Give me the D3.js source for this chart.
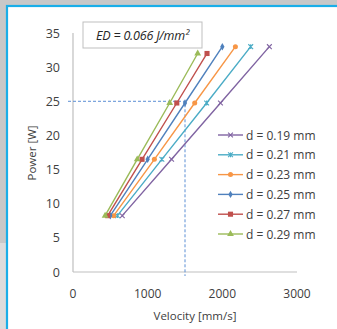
<!DOCTYPE html>
<meta charset="utf-8">
<script src="https://d3js.org/d3.v7.min.js"></script>
<style>
  body { margin: 0; background: #c8c8c8; }
  text { font-family: "Open Sans", "Liberation Sans", sans-serif; fill: #404040; }
</style>
<div id="chart"></div>
<script>
// chart data
var labels = ["d = 0.19 mm", "d = 0.21 mm", "d = 0.23 mm", "d = 0.25 mm", "d = 0.27 mm", "d = 0.29 mm"]
var colors = ["#8064A2", "#4BACC6", "#F79646", "#4F81BD", "#C0504D", "#9BBB59"]
var markers = ["x", "star", "circle", "diamond", "square", "triangle"]
var vel019 = [660, 1320, 1975, 2630], pow019 = [8.25, 16.5, 24.75, 33]
var vel021 = [595, 1190, 1790, 2380], pow021 = [8.25, 16.5, 24.75, 33]
var vel023 = [545, 1090, 1630, 2175], pow023 = [8.25, 16.5, 24.75, 33]
var vel025 = [500, 1000, 1500, 2000], pow025 = [8.25, 16.5, 24.75, 33]
var vel027 = [465, 925, 1390, 1795], pow027 = [8.25, 16.5, 24.75, 32]
var vel029 = [430, 860, 1295, 1670], pow029 = [8.25, 16.5, 24.75, 32]
var xTicks = [0, 1000, 2000, 3000]
var yTicks = [0, 5, 10, 15, 20, 25, 30, 35]
var guideVel = 1500, guidePow = 25

var vels = [vel019, vel021, vel023, vel025, vel027, vel029]
var pows = [pow019, pow021, pow023, pow025, pow027, pow029]
var series = labels.map(function(l, i) {
  return { label: l, color: colors[i], marker: markers[i],
    pts: vels[i].map(function(v, j) { return [v, pows[i][j]] }) }
})

var width = 337, height = 329
var svg = d3.select("#chart").append("svg").attr("width", width).attr("height", height)

// background panel
svg.append("rect").attr("x", 0).attr("y", 243).attr("width", 7).attr("height", 86).attr("fill", "#dcdcdc")
svg.append("rect").attr("x", 7).attr("y", 6).attr("width", 340).attr("height", 340)
  .attr("fill", "#fff").attr("stroke", "#1aaee8").attr("stroke-width", 2.2)

var x = d3.scaleLinear().domain([0, 3000]).range([73, 297])
var y = d3.scaleLinear().domain([0, 35]).range([272, 33])

// axes lines
svg.append("line").attr("x1", x(0)).attr("x2", x(0)).attr("y1", y(35)).attr("y2", y(0))
  .attr("stroke", "#bfbfbf").attr("stroke-width", 1.2)
svg.append("line").attr("x1", x(0)).attr("x2", x(3000)).attr("y1", y(0)).attr("y2", y(0))
  .attr("stroke", "#bfbfbf").attr("stroke-width", 1.2)

svg.selectAll(".ytick").data(yTicks).enter().append("text")
  .attr("x", 60).attr("y", function(d) { return y(d) + 4.5 })
  .attr("text-anchor", "end").style("font-size", "12.5px").text(function(d) { return d })
svg.selectAll(".xtick").data(xTicks).enter().append("text")
  .attr("x", function(d) { return x(d) }).attr("y", 298)
  .attr("text-anchor", "middle").style("font-size", "12px").text(function(d) { return d })

svg.append("text").attr("transform", "translate(36,153) rotate(-90)")
  .attr("text-anchor", "middle").style("font-size", "11.5px").text("Power [W]")
svg.append("text").attr("x", 195).attr("y", 320)
  .attr("text-anchor", "middle").style("font-size", "11.5px").text("Velocity [mm/s]")

// dashed guide lines
svg.append("path")
  .attr("d", "M" + (x(0) - 5) + "," + y(guidePow) + "H" + x(guideVel) + "V" + (y(0) + 4))
  .attr("fill", "none").attr("stroke", "#5b8ed4").attr("stroke-width", 1).attr("stroke-dasharray", "3,2")

// ED box
svg.append("rect").attr("x", 83).attr("y", 22).attr("width", 119).attr("height", 26)
  .attr("fill", "#fff").attr("stroke", "#bfbfbf")
svg.append("text").attr("x", 142.5).attr("y", 39.5).attr("text-anchor", "middle")
  .style("font-size", "12.5px").style("font-style", "italic").style("fill", "#262626")
  .style("letter-spacing", "-0.2px")
  .text("ED = 0.066 J/mm²")

function drawMarker(g, type, color) {
  var s = 2.4
  if (type === "x") {
    g.append("path").attr("d", "M" + -s + "," + -s + "L" + s + "," + s + "M" + -s + "," + s + "L" + s + "," + -s)
      .attr("stroke", color).attr("stroke-width", 1.1).attr("fill", "none")
  } else if (type === "star") {
    g.append("path").attr("d", "M" + -s + "," + -s + "L" + s + "," + s + "M" + -s + "," + s + "L" + s + "," + -s + "M0," + -s + "V" + s)
      .attr("stroke", color).attr("stroke-width", 1.1).attr("fill", "none")
  } else {
    var sym = { circle: d3.symbolCircle, diamond: d3.symbolDiamond, square: d3.symbolSquare, triangle: d3.symbolTriangle }[type]
    var size = { circle: 20, diamond: 16, square: 26, triangle: 20 }[type]
    g.append("path").attr("d", d3.symbol().type(sym).size(size)()).attr("fill", color)
  }
}

var line = d3.line().x(function(d) { return x(d[0]) }).y(function(d) { return y(d[1]) })

series.forEach(function(s) {
  svg.append("path").datum(s.pts).attr("d", line)
    .attr("fill", "none").attr("stroke", s.color).attr("stroke-width", 1.4)
  s.pts.forEach(function(p) {
    var g = svg.append("g").attr("transform", "translate(" + x(p[0]) + "," + y(p[1]) + ")")
    drawMarker(g, s.marker, s.color)
  })
})

// legend
var legend = svg.selectAll(".leg").data(series).enter().append("g")
  .attr("transform", function(d, i) { return "translate(218," + (135 + i * 19.8) + ")" })
legend.append("line").attr("x1", 0).attr("x2", 25).attr("stroke", function(d) { return d.color }).attr("stroke-width", 1.4)
legend.each(function(d) {
  var g = d3.select(this).append("g").attr("transform", "translate(12.5,0)")
  drawMarker(g, d.marker, d.color)
})
legend.append("text").attr("x", 28).attr("y", 4.5).style("font-size", "12px")
  .text(function(d) { return d.label })
</script>
